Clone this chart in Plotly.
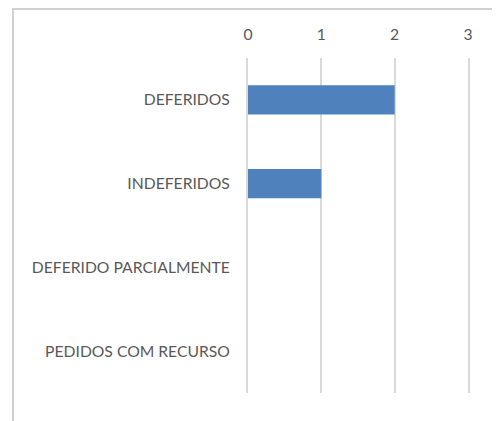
import plotly.graph_objects as go

categorias = ["DEFERIDOS", "INDEFERIDOS", "DEFERIDO PARCIALMENTE", "PEDIDOS COM RECURSO"]
quantidades = [2, 1, 0, 0]
ticks_x = [0, 1, 2, 3]

# a pagina tem margem de 8px no body, por isso a figura e 492x413
fig = go.Figure(go.Bar(
    y=categorias, x=quantidades, orientation="h",
    marker_color="#4F81BD", marker_line_width=0,
))

fig.update_layout(
    width=492, height=413,
    margin=dict(l=240, r=32, t=50, b=28),
    paper_bgcolor="white", plot_bgcolor="white",
    font=dict(family="Lato", size=15.7, color="#595959"),
    bargap=0.65, showlegend=False,
    shapes=[dict(type="rect", xref="paper", yref="paper",
                 x0=-235 / 220, x1=2, y0=-1, y1=1 + 49 / 335,
                 line=dict(color="#D0D0D0", width=2), layer="below")],
)
fig.update_xaxes(side="top", range=[0, 3], tickvals=ticks_x,
                 showgrid=True, gridcolor="#D9D9D9", gridwidth=2,
                 zeroline=False, showline=False, ticks="",
                 ticklabelstandoff=14)
fig.update_yaxes(autorange="reversed", showgrid=False,
                 showline=True, mirror=True, linecolor="#D9D9D9", linewidth=2,
                 zeroline=False, ticks="", ticklabelstandoff=13)

fig.write_html("out.html")
